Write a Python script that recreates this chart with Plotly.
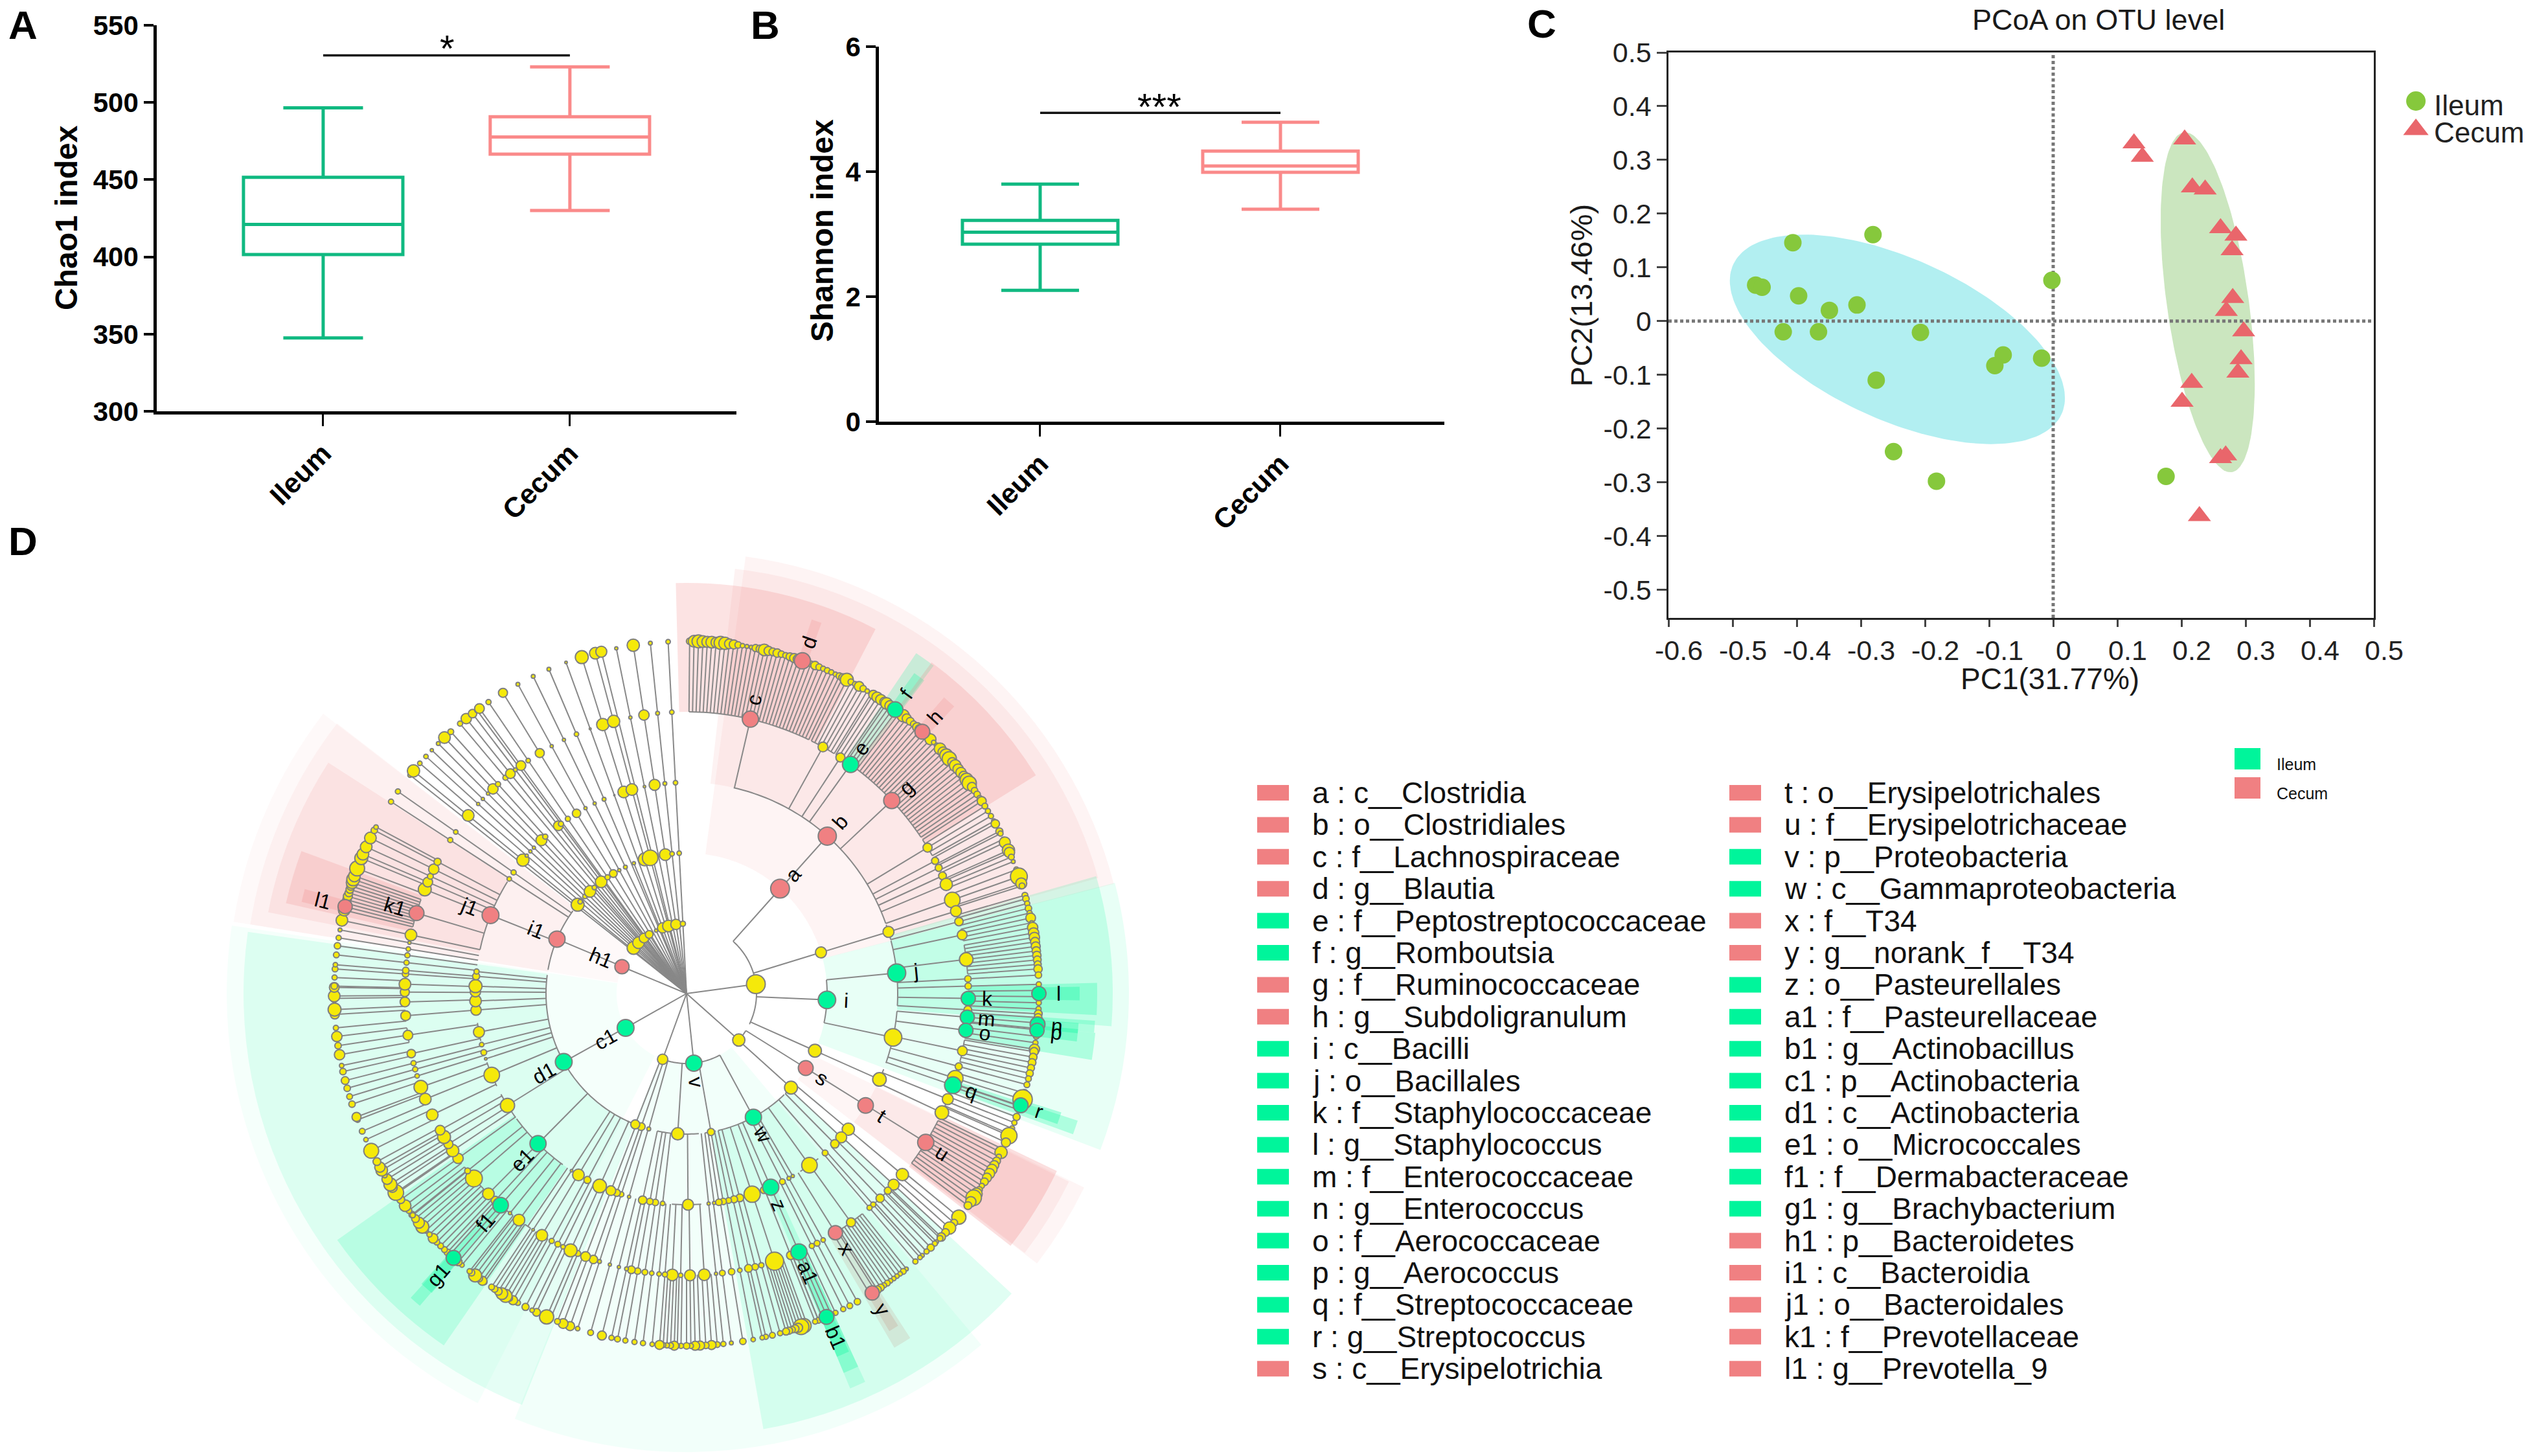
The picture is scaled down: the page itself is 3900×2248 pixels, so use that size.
import numpy as np
import plotly.graph_objects as go

W, H = 3900, 2248
FONT = "Liberation Sans"
GREEN_BOX, PINK_BOX = "#10B981", "#FA8A8A"
CLADE = {"g": "#00F59B", "r": "#F08082", "y": "#F5E90A"}

# ---------- panel A / B ----------
groups = ["Ileum", "Cecum"]
chao_low = [347.5, 430]; chao_q1 = [401.5, 466.5]; chao_med = [421, 477.6]; chao_q3 = [451.5, 490.7]; chao_high = [496.5, 523]
shan_low = [2.1, 3.4]; shan_q1 = [2.84, 3.99]; shan_med = [3.03, 4.09]; shan_q3 = [3.22, 4.33]; shan_high = [3.8, 4.79]
chao_ticks = [300, 350, 400, 450, 500, 550]
shan_ticks = [0, 2, 4, 6]
chao_sig = 530.5
shan_sig = 4.94

# ---------- panel C ----------
ileum_pc1 = [-0.281,-0.406,-0.002,-0.464,-0.454,-0.397,-0.306,-0.349,-0.421,-0.366,-0.207,-0.078,-0.091,-0.018,-0.276,-0.249,-0.182,0.176]
ileum_pc2 = [0.161,0.146,0.076,0.067,0.063,0.047,0.030,0.020,-0.020,-0.020,-0.021,-0.063,-0.083,-0.069,-0.110,-0.243,-0.298,-0.289]
cecum_pc1 = [0.126,0.139,0.205,0.217,0.237,0.261,0.285,0.279,0.280,0.270,0.297,0.293,0.288,0.216,0.201,0.269,0.261,0.228]
cecum_pc2 = [0.331,0.306,0.338,0.249,0.245,0.173,0.159,0.132,0.043,0.019,-0.019,-0.071,-0.096,-0.115,-0.150,-0.250,-0.255,-0.363]
# ellipse: centre x, centre y, half-extent x, half-extent y, correlation
ileum_ellipse = [-0.243, -0.034, 0.2613, 0.195, -0.56]
cecum_ellipse = [0.241, 0.035, 0.0734, 0.3164, -0.48]
pc_xticks = [-0.6,-0.5,-0.4,-0.3,-0.2,-0.1,0,0.1,0.2,0.3,0.4,0.5]
pc_yticks = [-0.5,-0.4,-0.3,-0.2,-0.1,0,0.1,0.2,0.3,0.4,0.5]

# ---------- panel D: cladogram ----------
RINGS = [108, 217, 326, 435, 544]
# family level (ring 435) with the genera (ring 544) that hang from it
fam_lo = [0.5,26.3,32.0,34.6,37.2,56.9,61.2,63.0,64.6,66.4,69.4,72.2,74.4,76.8,80.1,86.7,88.2,89.5,93.0,93.9,95.9,99.5,104.6,106.4,108.7,110.5,113.8,116.8,
          129.4,131.7,134.0,135.2,138.3,139.3,141.4,147.6,150.7,152.1,153.3,155.0,158.0,160.0,164.4,165.7,167.0,168.9,170.6,172.5,173.8,175.0,178.6,180.9,182.0,184.2,185.4,186.9,188.3,189.8,191.1,192.1,193.7,195.6,197.8,199.1,200.5,202.5,203.4,205.8,207.0,208.4,209.5,212.8,213.6,215.4,218.0,220.4,222.5,223.4,226.0,230.6,233.0,235.6,237.2,238.9,240.5,
          243.5,247.0,249.5,252.6,254.1,255.4,257.2,260.0,264.4,267.4,269.6,271.2,273.2,274.4,276.0,277.5,279.0,280.0,281.0,283.7,290.8,292.9,294.2,295.8,297.6,302.6,304.6]
fam_hi = [25.7,31.6,34.2,36.6,56.3,60.7,62.6,64.0,66.0,68.0,71.8,73.8,76.0,79.2,86.0,87.3,88.8,92.5,93.6,95.7,99.1,104.0,105.4,108.6,109.3,113.5,116.2,127.0,
          130.6,133.7,134.8,138.0,138.7,139.7,147.2,148.6,151.3,152.7,153.9,158.0,158.6,163.6,164.8,166.1,167.6,169.3,171.0,172.9,174.2,177.8,180.0,181.5,183.8,184.6,185.8,187.3,188.7,190.2,191.5,192.5,194.1,196.0,198.2,199.5,201.5,202.9,205.2,206.2,207.4,208.8,212.3,213.2,215.0,217.6,219.6,222.2,223.0,226.0,232.0,231.4,235.4,236.6,238.2,239.9,241.5,
          245.5,249.0,251.7,253.4,254.7,256.0,258.2,263.0,266.6,269.2,271.0,272.6,274.8,275.0,276.6,278.1,279.2,280.8,283.0,289.5,292.6,293.7,295.0,296.6,298.2,303.4,305.4]
fam_size = [25,15,14,25,25,14,11,11,12,19,24,17,13,15,21,10,10,22,12,22,22,15,11,24,26,17,21,25,
            19,17,11,13,8,8,14,22,7,9,8,25,13,28,8,10,12,7,10,9,5,18,17,7,18,8,7,7,9,10,12,6,5,5,6,13,15,9,20,7,9,8,18,4,0,18,5,24,13,18,26,9,16,19,14,20,15,
            18,18,21,7,8,8,13,15,15,15,14,18,10,10,8,8,7,5,18,23,20,15,9,16,11,8,7]
fam_kind = ["r","y","y","g","r","y","y","y","y","y","y","y","y","y","y","y","y","g","y","g","g","y","y","y","g","y","y","r",
            "y","y","y","y","y","y","y","r","y","y","y","g","y","y","y","y","y","y","y","y","y","y","y","y","y","y","y","y","y","y","y","y","y","y","y","y","y","y","y","y","y","y","y","y","y","y","y","g","y","y","y","y","y","y","y","y","y",
            "y","y","y","y","y","y","y","y","y","y","y","y","y","y","y","y","y","y","y","r","y","y","y","y","y","y","y"]
fam_leaves = [
 [10,18,20,18,17,18,16,20,19,15,14,10,7,6,6,11,12,18,14,12,13,10,9,12,14,16,17,12,9,13,10,8,9,8,7,10],
 [12,20,9,8,15,10,7,7],[14,16,16,15],[18,16,14,10],
 [9,19,14,12,10,14,18,14,13,17,7,8,18,16,20,22,14,18,16,16,15,20,22,14,10,10,8],
 [14,9,8,8,7],[13,11],[8,6],[17,19],[16,9,6],[8,26,17],[9,9],[10,8,10],[8,15,6,16],
 [16,16,14,14,13,13,12,11,13],[10],[8],[10,9,8,8],[12],[12,10,9],[10,9,8,16],[13,12,12,11,11,9],[9],[11,30,17],[10,9],
 [11,8,8,18],[25,14,8],[19,8,12,14,16,16,14,12,8,10,18,24,16,12],
 [22,11],[19,12,13],[9,6],[8,11,8,6],[7],[8],[6,9,7,7,7,7,9,8,11,12],[8,8],[10],[9],[8],
 [8,9,8,8,8],[9,8],[9,22,24,14,12,10,11,11],[8],[9],[8,7],[7],[10],[6],[8],[9,14,10,14],[14,8,10],[8,7],[14,9,8,8],[14],[7],[8],[8],[8],[9],[8],[14],[9],[7],
 [14],[15,9],[7],[22,12],[7],[11],[8],[14,10,20,18,12],[10],[9,8],[14,12,20,10],[8,7],[12,16,10],[10],[9,9,9,8],
 [15,8,8,20,17,12,10,9],[8],[18,12,8],[24,15],[20,16],[7,18],[16,12],
 [23,7],[9,8],[14,10],[9],[10],[12],[10,7],[16,10,16],[8,14],[20,12],[18,15],[10,8],[9],[7],[9],[10],[8],[6],[18],
 [18,16,14,13,14,12,12,13,18,20,18],[23,20],[18],[18],[18],[10,7],[8],[8]]
# order level (ring 326)
ord_theta = [41.8,73.0,84.4,102.0,114.0,122.0,130.0,132.9,135.4,139.0,144.4,149.8,151.0,153.0,156.5,158.5,161.9,165.4,167.0,168.5,170.0,171.2,172.5,174.0,179.6,186.5,188.5,190.0,192.0,195.8,198.0,199.3,201.0,204.3,208.0,210.8,213.0,224.7,238.0,247.3,252.0,253.8,256.0,259.5,265.5,268.0,270.5,272.0,274.7,276.0,291.8,302.9,305.0]
ord_lo = [12.9,71.0,75.5,94.8,111.0,122.0,129.4,132.9,135.4,139.0,141.4,149.8,151.0,153.0,155.0,158.5,160.0,165.4,167.0,168.5,170.0,171.2,172.5,174.0,176.0,186.5,188.5,190.0,192.0,195.8,198.0,199.3,201.0,203.4,208.0,209.5,213.0,215.9,234.0,244.0,252.0,253.8,255.4,257.0,265.0,267.6,270.0,271.6,274.2,275.8,282.0,302.9,305.0]
ord_hi = [70.6,75.2,93.3,109.2,116.0,122.0,131.0,132.9,135.4,139.0,147.4,149.8,151.0,153.0,158.0,158.5,163.6,165.4,167.0,168.5,170.0,171.2,172.5,174.0,184.0,186.5,188.5,190.0,192.0,195.8,198.0,199.3,201.0,205.2,208.0,212.0,213.0,233.6,241.5,251.0,252.0,253.8,256.0,262.0,266.0,268.4,271.0,272.4,275.2,276.2,302.0,302.9,305.0]
ord_size = [28,17,28,27,21,24,19,17,13,9,24,5,6,9,25,11,25,12,11,9,10,10,5,5,17,7,10,10,13,5,8,11,15,21,11,18,4,25,22,24,4,9,7,17,16,18,16,20,11,8,26,7,8]
ord_kind = ["r","y","g","y","y","r","y","y","y","y","y","y","y","y","g","y","y","y","y","y","y","y","y","y","y","y","y","y","y","y","y","y","y","y","y","y","y","g","y","y","y","y","y","y","y","y","y","y","y","y","r","y","y"]
# class level (ring 217)
cls_theta = [41.7,73.0,92.6,114.0,122.0,132.0,151.6,170.0,183.6,195.6,198.8,201.4,240.9,292.8]
cls_lo = [41.7,73.0,84.4,114.0,122.0,130.0,136.0,168.0,175.0,195.6,198.8,198.0,204.2,279.7]
cls_hi = [41.8,73.0,102.0,114.0,122.0,135.4,167.0,172.5,192.0,195.8,199.3,205.0,277.6,306.0]
cls_size = [29,17,27,20,23,20,25,11,19,6,12,14,26,25]
cls_kind = ["r","y","g","y","r","y","g","y","y","y","y","y","g","r"]
# phylum level (ring 108)
phy_theta = [82.3,131.7,174.0,200.0,240.6,292.6]
phy_lo = [41.7,122.0,151.6,195.6,240.6,292.6]
phy_hi = [116.0,132.0,196.0,204.0,241.0,293.0]
phy_size = [29,19,25,16,26,22]
phy_kind = ["y","y","g","y","g","r"]
# lineages fanning directly out of the root
fan_theta = [308.3,309.2,310.8,312.3,313.7,315.2,316.6,318.0,319.0,320.0,321.3,322.6,323.5,324.0,325.8,327.7,328.6,331.4,334.2,337.0,338.0,340.0,342.7,345.0,346.0,348.5,351.3,354.1,357.0]
fan_s544 = [7,19,7,7,5,6,18,9,0,8,16,13,7,15,8,0,14,6,6,6,0,4,20,18,17,5,19,6,7]
fan_s435 = [0,18,0,5,5,5,16,8,0,8,15,6,0,15,7,0,14,5,5,7,0,3,19,19,0,5,16,6,7]
fan_s326 = [0,19,5,5,5,0,17,8,0,0,0,15,8,0,8,0,13,5,5,6,0,2,18,18,0,4,17,6,7]
fan_s217 = [0,20,7,0,7,0,18,0,7,0,0,18,0,0,8,0,12,5,6,0,5,0,20,24,0,0,18,7,7]
fan_s108 = [0,0,20,0,0,0,18,0,0,0,0,15,0,0,0,12,0,0,5,0,0,16,0,18,0,0,16,0,8]
# marked genera on the outer ring
mark_theta = [19.2,36.3,42.0,90.0,95.0,96.0,108.5,148.2,156.6,221.4,284.3]
mark_size = [25,24,23,22,23,22,23,22,23,23,22]
mark_kind = ["r","g","r","g","g","g","g","r","g","g","r"]
# shaded sectors
wedge_lo = [7.7,6.5,-1.5,18.5,34.0,35.4,36.5,41.0,116.0,116.2,115.6,147.0,147.5,279.0,279.0,281.0,282.7,283.4,
            75.5,74.0,88.5,89.0,93.8,94.3,95.5,95.2,108.0,107.6,132.7,140.0,155.3,155.3,155.6,207.0,201.8,214.6,220.5,220.4]
wedge_hi = [75.6,74.3,27.4,20.0,37.0,37.2,58.0,43.0,127.6,127.5,127.9,149.6,149.0,307.6,307.7,302.8,290.3,285.3,
            110.7,94.4,93.0,91.0,95.5,95.8,99.3,97.0,110.0,109.4,170.0,202.0,157.5,157.5,157.5,278.5,278.0,234.8,222.2,222.4]
wedge_in = [217,326,435,544,435,544,435,544,217,326,435,435,544,108,217,326,435,544,
            217,326,435,544,435,544,435,544,435,544,217,108,326,435,544,108,217,326,435,544]
wedge_out = [681,660,634,609,634,607,636,606,683,658,634,634,608,708,682,658,634,611,
             683,658,634,607,632,607,634,607,635,607,683,708,660,634,607,710,684,660,634,607]
wedge_kind = ["r","r","r","r","g","g","r","r","r","r","r","r","r","r","r","r","r","r",
              "g","g","g","g","g","g","g","g","g","g","g","g","g","g","g","g","g","g","g","g"]
wedge_alpha = [.09,.1,.22,.2,.2,.25,.22,.2,.08,.1,.25,.2,.25,.05,.07,.13,.2,.22,
               .09,.16,.25,.3,.25,.3,.25,.3,.25,.3,.12,.05,.15,.25,.3,.04,.1,.16,.25,.3]
# clade labels: text, angle, ring radius of node
label_text = ["a","b","c","d","e","f","g","h","i","j","k","l","m","n","o","p","q","r","s","t","u","v","w","x","y","z","a1","b1","c1","d1","e1","f1","g1","h1","i1","j1","k1","l1"]
label_theta = [41.7,41.8,12.9,19.2,35.5,36.3,46.9,42.0,92.6,84.4,91.0,90.0,94.8,95.0,97.5,96.0,109.0,108.5,122.0,122.0,121.9,174.0,151.6,148.0,148.2,156.5,156.5,156.6,240.6,240.9,224.7,221.3,221.4,292.6,292.8,291.8,286.6,284.3]
label_ring = [217,326,435,544,435,544,435,544,217,326,435,544,435,544,435,544,435,544,217,326,435,108,217,435,544,326,435,544,108,217,326,435,544,108,217,326,435,544]
# taxa table
taxa_col1 = ["a : c__Clostridia","b : o__Clostridiales","c : f__Lachnospiraceae","d : g__Blautia","e : f__Peptostreptococcaceae","f : g__Romboutsia","g : f__Ruminococcaceae","h : g__Subdoligranulum","i : c__Bacilli","j : o__Bacillales","k : f__Staphylococcaceae","l : g__Staphylococcus","m : f__Enterococcaceae","n : g__Enterococcus","o : f__Aerococcaceae","p : g__Aerococcus","q : f__Streptococcaceae","r : g__Streptococcus","s : c__Erysipelotrichia"]
kind_col1 = ["r","r","r","r","g","g","r","r","g","g","g","g","g","g","g","g","g","g","r"]
taxa_col2 = ["t : o__Erysipelotrichales","u : f__Erysipelotrichaceae","v : p__Proteobacteria","w : c__Gammaproteobacteria","x : f__T34","y : g__norank_f__T34","z : o__Pasteurellales","a1 : f__Pasteurellaceae","b1 : g__Actinobacillus","c1 : p__Actinobacteria","d1 : c__Actinobacteria","e1 : o__Micrococcales","f1 : f__Dermabacteraceae","g1 : g__Brachybacterium","h1 : p__Bacteroidetes","i1 : c__Bacteroidia","j1 : o__Bacteroidales","k1 : f__Prevotellaceae","l1 : g__Prevotella_9"]
kind_col2 = ["r","r","g","g","r","r","g","g","g","g","g","g","g","g","r","r","r","r","r"]

# ---------- helpers ----------
def px(x): return x / W
def py(y): return 1 - y / H

CX, CY, RMAX = 1060, 1534, 714
fig = go.Figure()
annots, shapes = [], []

def note(text, x, y, size, bold=False, angle=0, anchor="center", color="#1a1a1a"):
    annots.append(dict(text=text, x=px(x), y=py(y), xref="paper", yref="paper", showarrow=False,
                       xanchor=anchor, yanchor="middle", textangle=angle,
                       font=dict(family=FONT, size=size, color=color, weight=700 if bold else 400)))

# ---------- boxes ----------
def add_boxes(xa, ya, low, q1, med, q3, high, sig, width):
    for i, g in enumerate(groups):
        col = GREEN_BOX if i == 0 else PINK_BOX
        fig.add_trace(go.Box(x=[g], q1=[q1[i]], median=[med[i]], q3=[q3[i]], lowerfence=[low[i]], upperfence=[high[i]],
                             width=width, whiskerwidth=0.5, boxpoints=False, fillcolor="rgba(0,0,0,0)",
                             line=dict(color=col, width=5), xaxis=xa, yaxis=ya, showlegend=False))
    fig.add_trace(go.Scatter(x=[groups[0], groups[1]], y=[sig, sig], mode="lines", line=dict(color="#111", width=3.5),
                             xaxis=xa, yaxis=ya, showlegend=False))

add_boxes("x", "y", chao_low, chao_q1, chao_med, chao_q3, chao_high, chao_sig, 0.646)
add_boxes("x2", "y2", shan_low, shan_q1, shan_med, shan_q3, shan_high, shan_sig, 0.647)

# ---------- PCoA ----------
def ellipse(e):
    t = np.linspace(0, 2 * np.pi, 181)
    return e[0] + e[2] * np.cos(t), e[1] + e[3] * (e[4] * np.cos(t) + np.sqrt(1 - e[4] ** 2) * np.sin(t))

ex, ey = ellipse(ileum_ellipse)
fig.add_trace(go.Scatter(x=ex, y=ey, mode="lines", fill="toself", fillcolor="#B2EFF1", line=dict(width=0), xaxis="x3", yaxis="y3", showlegend=False))
ex, ey = ellipse(cecum_ellipse)
fig.add_trace(go.Scatter(x=ex, y=ey, mode="lines", fill="toself", fillcolor="#CBE6BF", line=dict(width=0), xaxis="x3", yaxis="y3", showlegend=False))
fig.add_trace(go.Scatter(x=[0, 0], y=[-0.5525, 0.5], mode="lines", line=dict(color="#777777", width=5, dash="5px,4px"), xaxis="x3", yaxis="y3", showlegend=False))
fig.add_trace(go.Scatter(x=[-0.6, 0.5], y=[0, 0], mode="lines", line=dict(color="#777777", width=5, dash="5px,4px"), xaxis="x3", yaxis="y3", showlegend=False))
fig.add_trace(go.Scatter(x=ileum_pc1, y=ileum_pc2, mode="markers", marker=dict(color="#86C83C", size=27, symbol="circle"), xaxis="x3", yaxis="y3", showlegend=False))
fig.add_trace(go.Scatter(x=cecum_pc1, y=cecum_pc2, mode="markers", marker=dict(color="#E9666B", size=31, symbol="triangle-up"), xaxis="x3", yaxis="y3", showlegend=False))
# panel C legend glyphs on a small hidden axis pair
fig.add_trace(go.Scatter(x=[0.5], y=[0.74], mode="markers", marker=dict(color="#86C83C", size=30, symbol="circle"), xaxis="x4", yaxis="y4", showlegend=False))
fig.add_trace(go.Scatter(x=[0.5], y=[0.30], mode="markers", marker=dict(color="#E9666B", size=34, symbol="triangle-up"), xaxis="x4", yaxis="y4", showlegend=False))
note("Ileum", 3756, 163, 44, anchor="left", color="#222")
note("Cecum", 3756, 205, 44, anchor="left", color="#222")

# ---------- cladogram ----------
def arc_pts(r, lo, hi):
    t = list(np.arange(lo, hi, 1.0)) + [hi]
    return [r] * len(t), t

wedge_rgb = {"g": "0,250,154", "r": "240,128,128"}
fig.add_trace(go.Barpolar(
    theta=[(a + b) / 2 for a, b in zip(wedge_lo, wedge_hi)],
    width=[b - a for a, b in zip(wedge_lo, wedge_hi)],
    base=wedge_in,
    r=[o - i for o, i in zip(wedge_out, wedge_in)],
    marker=dict(color=[f"rgba({wedge_rgb[k]},{a})" for k, a in zip(wedge_kind, wedge_alpha)], line=dict(width=0)),
    showlegend=False, subplot="polar", hoverinfo="skip"))

line_r, line_t = [], []
nodes = {"r": [], "t": [], "s": [], "k": []}
def seg(r0, r1, t):
    line_r.extend([r0, r1, None]); line_t.extend([t, t, None])
def arc(r, lo, hi):
    if hi > lo:
        a, b = arc_pts(r, lo, hi)
        line_r.extend(a + [None]); line_t.extend(b + [None])
def node(r, t, s, k):
    if s > 0:
        nodes["r"].append(r); nodes["t"].append(t); nodes["s"].append(s); nodes["k"].append(k)

for lo, hi, s, k, leaves in zip(fam_lo, fam_hi, fam_size, fam_kind, fam_leaves):
    th = (lo + hi) / 2
    arc(RINGS[3], lo, hi)
    seg(RINGS[3], RINGS[2], th)
    node(RINGS[3], th, s, k)
    lt = np.linspace(lo, hi, len(leaves)) if len(leaves) > 1 else [th]
    for t, ls in zip(lt, leaves):
        seg(RINGS[4], RINGS[3], float(t))
        node(RINGS[4], float(t), ls, "y")
for th, lo, hi, s, k in zip(ord_theta, ord_lo, ord_hi, ord_size, ord_kind):
    arc(RINGS[2], lo, hi); seg(RINGS[2], RINGS[1], th); node(RINGS[2], th, s, k)
for th, lo, hi, s, k in zip(cls_theta, cls_lo, cls_hi, cls_size, cls_kind):
    arc(RINGS[1], lo, hi); seg(RINGS[1], RINGS[0], th); node(RINGS[1], th, s, k)
for th, lo, hi, s, k in zip(phy_theta, phy_lo, phy_hi, phy_size, phy_kind):
    arc(RINGS[0], lo, hi); seg(RINGS[0], 0, th); node(RINGS[0], th, s, k)
for row in zip(fan_theta, fan_s108, fan_s217, fan_s326, fan_s435, fan_s544):
    th, sizes = row[0], row[1:]
    top = max(i for i, v in enumerate(sizes) if v > 0)
    seg(RINGS[top], 0, th)
    for i, v in enumerate(sizes):
        node(RINGS[i], th, v, "y")
for th, s, k in zip(mark_theta, mark_size, mark_kind):
    node(RINGS[4], th, s, k)

fig.add_trace(go.Scatterpolar(r=line_r, theta=line_t, mode="lines", line=dict(color="#888888", width=2), subplot="polar",
                              showlegend=False, hoverinfo="skip", connectgaps=False))
for kinds in (["y"], ["g", "r"]):
    idx = [i for i, k in enumerate(nodes["k"]) if k in kinds]
    fig.add_trace(go.Scatterpolar(r=[nodes["r"][i] for i in idx], theta=[nodes["t"][i] for i in idx], mode="markers",
                                  marker=dict(size=[nodes["s"][i] for i in idx], color=[CLADE[nodes["k"][i]] for i in idx],
                                              line=dict(color="#7F7F7F", width=2), opacity=1),
                                  subplot="polar", showlegend=False, hoverinfo="skip"))

for txt, th, ring in zip(label_text, label_theta, label_ring):
    rr = ring + 30 + (5 if len(txt) > 1 else 0)
    a = np.deg2rad(th)
    ang = th - 90 if th < 180 else th - 270
    note(txt, CX + rr * np.sin(a), CY - rr * np.cos(a), 32, angle=ang, color="#000")

# ---------- taxa legend ----------
ROW0, ROWH = 1224, 49.4
for col_names, col_kinds, sx, tx in [(taxa_col1, kind_col1, 1941, 2024), (taxa_col2, kind_col2, 2670, 2753)]:
    for i, (n, k) in enumerate(zip(col_names, col_kinds)):
        y = ROW0 + i * ROWH
        shapes.append(dict(type="rect", xref="paper", yref="paper", x0=px(sx), x1=px(sx + 49), y0=py(y - 12), y1=py(y + 12),
                           fillcolor={"g": "#00F59B", "r": "#F08082"}[k], line=dict(width=0)))
        note(n, tx, y, 46, anchor="left", color="#111")
for k, y0, y1, lab, ty in [("g", 1155, 1188, "Ileum", 1180), ("r", 1200, 1233, "Cecum", 1225)]:
    shapes.append(dict(type="rect", xref="paper", yref="paper", x0=px(3450), x1=px(3490), y0=py(y0), y1=py(y1),
                       fillcolor={"g": "#00F59B", "r": "#F08082"}[k], line=dict(width=0)))
    note(lab, 3513, ty, 25, anchor="left", color="#111")

# ---------- panel letters and titles ----------
note("A", 35, 38, 62, bold=True, color="#000")
note("B", 1181, 39, 62, bold=True, color="#000")
note("C", 2380, 36, 62, bold=True, color="#000")
note("D", 35, 836, 62, bold=True, color="#000")
note("Chao1 index", 103, 336, 48, bold=True, angle=-90, color="#000")
note("Shannon index", 1269, 356, 48, bold=True, angle=-90, color="#000")
note("*", 690, 74, 58, color="#000")
note("***", 1790, 164, 58, color="#000")
note("PCoA on OTU level", 3240, 30, 45)
note("PC1(31.77%)", 3165, 1048, 46)
note("PC2(13.46%)", 2441, 456, 47, angle=-90)

# ---------- axes ----------
def cat_axis(x0, x1, lo, hi):
    return dict(domain=[px(x0), px(x1)], type="category", categoryorder="array", categoryarray=groups, range=[lo, hi],
                showline=True, linecolor="#000", linewidth=4.5, ticks="outside", ticklen=18, tickwidth=3,
                tickcolor="#000", tickangle=-45, showgrid=False, zeroline=False,
                tickfont=dict(family=FONT, size=43, color="#000", weight=700))
def val_axis(y0, y1, rng, ticks, anchor):
    return dict(domain=[py(y1), py(y0)], range=rng, tickvals=ticks, showline=True, linecolor="#000", linewidth=4.5,
                ticks="outside", ticklen=15, tickwidth=3.5, tickcolor="#000", showgrid=False, zeroline=False, anchor=anchor,
                tickfont=dict(family=FONT, size=42, color="#000", weight=700))
pc_font = dict(family=FONT, size=43, color="#222")
fig.update_layout(
    width=W, height=H, margin=dict(l=0, r=0, t=0, b=0, autoexpand=False), paper_bgcolor="white", plot_bgcolor="white",
    showlegend=False,
    xaxis=dict(cat_axis(242, 1137, -0.6745, 1.675), anchor="y"),
    yaxis=val_axis(39, 635, [300, 550], chao_ticks, "x"),
    xaxis2=dict(cat_axis(1357, 2230, -0.671, 1.682), anchor="y2"),
    yaxis2=val_axis(72, 651, [0, 6], shan_ticks, "x2"),
    xaxis3=dict(domain=[px(2576), px(3665)], range=[-0.6, 0.5], tickvals=pc_xticks, ticktext=[f"{v:g}" for v in pc_xticks],
                showline=True, mirror=True, linecolor="#222", linewidth=2.5, ticks="outside", ticklen=11, tickwidth=2.5,
                showgrid=False, zeroline=False, anchor="y3", tickfont=pc_font, ticklabelshift=16),
    yaxis3=dict(domain=[py(954), py(81)], range=[-0.5525, 0.5], tickvals=pc_yticks, ticktext=[f"{v:g}" for v in pc_yticks],
                showline=True, mirror=True, linecolor="#222", linewidth=2.5, ticks="outside", ticklen=15, tickwidth=2.5,
                showgrid=False, zeroline=False, anchor="x3", tickfont=pc_font),
    xaxis4=dict(domain=[px(3700), px(3760)], range=[0, 1], visible=False, anchor="y4"),
    yaxis4=dict(domain=[py(230), py(130)], range=[0, 1], visible=False, anchor="x4"),
    polar=dict(domain=dict(x=[px(CX - RMAX), px(CX + RMAX)], y=[0, 2 * RMAX / H]),
               bgcolor="rgba(0,0,0,0)", barmode="overlay",
               radialaxis=dict(visible=False, range=[0, RMAX]),
               angularaxis=dict(visible=False, rotation=90, direction="clockwise", thetaunit="degrees")),
    annotations=annots, shapes=shapes,
)
# the browser's default 8px page margin would shift the whole figure
fig.write_html("out.html", post_script="document.body.style.margin='0';", config=dict(displayModeBar=False))
